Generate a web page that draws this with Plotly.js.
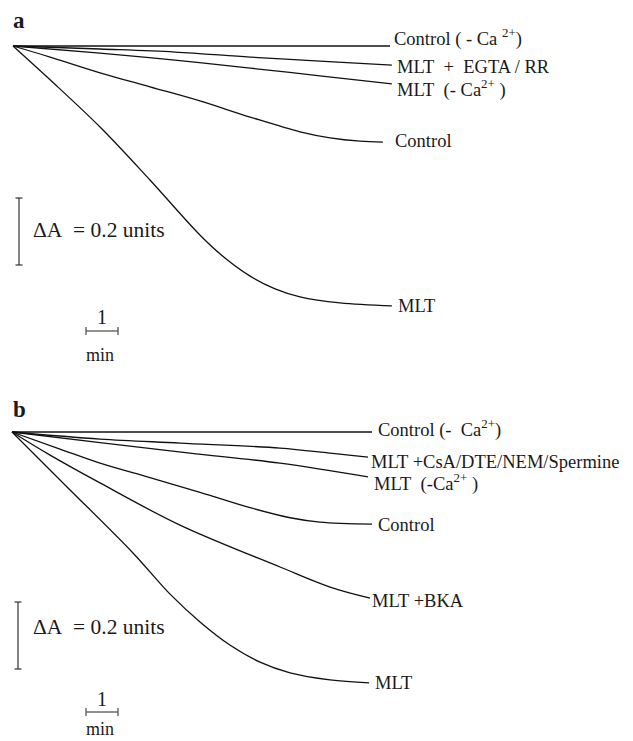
<!DOCTYPE html>
<html>
<head>
<meta charset="utf-8">
<script src="https://cdn.plot.ly/plotly-3.0.1.min.js"></script>
<style>
html,body{margin:0;padding:0;background:#fff;}
#chart{width:633px;height:741px;}
</style>
</head>
<body>
<div id="chart"></div>
<script>
// ---------- DATA (time in min, ΔA in absorbance units; negative = decrease) ----------
// Panel a
const a_ctrlNoCa_t = [0, 3, 6, 9, 11.78];
const a_ctrlNoCa_y = [0, 0, 0, 0, 0];
const a_egta_t = [0, 2.72, 5.06, 7.41, 9.59, 11.84];
const a_egta_y = [0, -0.009, -0.018, -0.033, -0.045, -0.057];
const a_mltNoCa_t = [0, 2.72, 5.06, 7.41, 9.59, 11.84];
const a_mltNoCa_y = [0, -0.021, -0.042, -0.066, -0.089, -0.113];
const a_ctrl_t = [0, 1.16, 2.72, 4.28, 5.84, 7.41, 8.97, 9.91, 10.84, 11.56];
const a_ctrl_y = [0, -0.033, -0.080, -0.122, -0.164, -0.212, -0.256, -0.274, -0.284, -0.287];
const a_mlt_t = [0, 1.16, 2.72, 4.28, 5.84, 6.625, 7.41, 8.19, 8.97, 10.22, 11.84];
const a_mlt_y = [0, -0.101, -0.242, -0.400, -0.564, -0.633, -0.687, -0.725, -0.749, -0.767, -0.776];
const a_labels = ["Control ( - Ca <sup>2+</sup>)", "MLT&nbsp; +&nbsp; EGTA / RR", "MLT&nbsp; (- Ca<sup>2+</sup> )", "Control", "MLT"];

// Panel b
const b_ctrlNoCa_t = [0, 3, 6, 9, 11.25];
const b_ctrlNoCa_y = [0, 0, 0, 0, 0];
const b_csa_t = [0, 2.75, 5.25, 8.375, 9.94, 11.125];
const b_csa_y = [0, -0.021, -0.033, -0.048, -0.063, -0.075];
const b_mltNoCa_t = [0, 2.75, 5.56, 8.375, 11.125];
const b_mltNoCa_y = [0, -0.032, -0.063, -0.093, -0.134];
const b_ctrl_t = [0, 1.5, 2.75, 4.31, 5.875, 7.44, 8.69, 9.625, 11.25];
const b_ctrl_y = [0, -0.051, -0.093, -0.136, -0.180, -0.226, -0.256, -0.269, -0.275];
const b_bka_t = [0, 1.19, 2.75, 5.25, 8.375, 9.94, 11.19];
const b_bka_y = [0, -0.069, -0.152, -0.278, -0.403, -0.463, -0.496];
const b_mlt_t = [0, 1.72, 3.78, 4.94, 5.875, 6.81, 7.75, 8.69, 9.94, 11.16];
const b_mlt_y = [0, -0.164, -0.361, -0.484, -0.567, -0.636, -0.687, -0.719, -0.740, -0.749];
const b_labels = ["Control (-&nbsp; Ca<sup>2+</sup>)", "MLT +CsA/DTE/NEM/Spermine", "MLT&nbsp; (-Ca<sup>2+</sup> )", "Control", "MLT +BKA", "MLT"];

// scale bars
const scaleTime = 1;      // min
const scaleAbs = 0.2;     // ΔA units
const scaleTimeLabel = ["1", "min"];
const scaleAbsLabel = "ΔA&nbsp; = 0.2 units";
const panelLetters = ["a", "b"];

// ---------- LAYOUT HELPERS ----------
const W = 633, H = 741;
const PXMIN = 32, PXUNIT = 335;           // pixels per minute, per absorbance unit
const A0 = {px: 13, py: 46}, B0 = {px: 12, py: 432};
const splitPy = 370;
function toA(px, py){ return {x: (px - A0.px)/PXMIN, y: -(py - A0.py)/PXUNIT}; }
function toB(px, py){ return {x: (px - B0.px)/PXMIN, y: -(py - B0.py)/PXUNIT}; }

const lineStyle = {color: '#111', width: 1.3, shape: 'spline', smoothing: 1};
function tr(t, y, xa, ya){
  return {x: t, y: y, xaxis: xa, yaxis: ya, type: 'scatter', mode: 'lines',
          line: lineStyle, hoverinfo: 'skip', showlegend: false};
}

const data = [
  tr(a_ctrlNoCa_t, a_ctrlNoCa_y, 'x', 'y'),
  tr(a_egta_t, a_egta_y, 'x', 'y'),
  tr(a_mltNoCa_t, a_mltNoCa_y, 'x', 'y'),
  tr(a_ctrl_t, a_ctrl_y, 'x', 'y'),
  tr(a_mlt_t, a_mlt_y, 'x', 'y'),
  tr(b_ctrlNoCa_t, b_ctrlNoCa_y, 'x2', 'y2'),
  tr(b_csa_t, b_csa_y, 'x2', 'y2'),
  tr(b_mltNoCa_t, b_mltNoCa_y, 'x2', 'y2'),
  tr(b_ctrl_t, b_ctrl_y, 'x2', 'y2'),
  tr(b_bka_t, b_bka_y, 'x2', 'y2'),
  tr(b_mlt_t, b_mlt_y, 'x2', 'y2')
];

const FONT = 'Liberation Serif';
const annotations = [];
function ann(p, text, xr, yr, size, opts){
  annotations.push(Object.assign({x: p.x, y: p.y, xref: xr, yref: yr, text: text,
    showarrow: false, xanchor: 'left', yanchor: 'middle',
    font: {family: FONT, size: size, color: '#1a1a1a'}}, opts || {}));
}

// curve labels (panel a)
const aLabelPos = [[392, 37], [395, 67], [395, 88], [393, 141], [396, 306]];
a_labels.forEach((t, i) => ann(toA(aLabelPos[i][0], aLabelPos[i][1]), t, 'x', 'y', 18.5));
// curve labels (panel b)
const bLabelPos = [[376, 428], [369, 462], [372, 482], [376, 525], [370, 601], [373, 683]];
b_labels.forEach((t, i) => ann(toB(bLabelPos[i][0], bLabelPos[i][1]), t, 'x2', 'y2', 18.5));

// panel letters
ann(toA(11, 20), '<b>' + panelLetters[0] + '</b>', 'x', 'y', 23);
ann(toB(11, 409), '<b>' + panelLetters[1] + '</b>', 'x2', 'y2', 23);

// scale labels
ann(toA(31, 230), scaleAbsLabel, 'x', 'y', 21.5);
ann(toB(31, 627), scaleAbsLabel, 'x2', 'y2', 21.5);
ann(toA(102, 317), scaleTimeLabel[0], 'x', 'y', 20, {xanchor: 'center'});
ann(toA(100, 355), scaleTimeLabel[1], 'x', 'y', 18, {xanchor: 'center'});
ann(toB(102, 699), scaleTimeLabel[0], 'x2', 'y2', 20, {xanchor: 'center'});
ann(toB(100, 729), scaleTimeLabel[1], 'x2', 'y2', 18, {xanchor: 'center'});

// scale bars as shapes
const shapes = [];
function seg(x0, y0, x1, y1, xr, yr, color, w){
  shapes.push({type: 'line', x0: x0, y0: y0, x1: x1, y1: y1, xref: xr, yref: yr,
               line: {color: color, width: w}});
}
function vBar(p, xr, yr){
  const capX = 3.5/PXMIN;
  seg(p.x, p.y, p.x, p.y - scaleAbs, xr, yr, '#333', 1.2);
  seg(p.x - capX, p.y, p.x + capX, p.y, xr, yr, '#333', 1.2);
  seg(p.x - capX, p.y - scaleAbs, p.x + capX, p.y - scaleAbs, xr, yr, '#333', 1.2);
}
function hBar(p, xr, yr){
  const capY = 4/PXUNIT;
  seg(p.x, p.y, p.x + scaleTime, p.y, xr, yr, '#555', 1.3);
  seg(p.x, p.y - capY, p.x, p.y + capY, xr, yr, '#555', 1.3);
  seg(p.x + scaleTime, p.y - capY, p.x + scaleTime, p.y + capY, xr, yr, '#555', 1.3);
}
vBar(toA(19, 198), 'x', 'y');
vBar(toB(18, 602), 'x2', 'y2');
hBar(toA(86, 331), 'x', 'y');
hBar(toB(86, 712), 'x2', 'y2');

const hidden = {showgrid: false, zeroline: false, showticklabels: false, ticks: '', showline: false, fixedrange: true};
const layout = {
  width: W, height: H, autosize: false,
  margin: {l: 0, r: 0, t: 0, b: 0, pad: 0},
  paper_bgcolor: '#fff', plot_bgcolor: '#fff',
  font: {family: FONT, color: '#1a1a1a'},
  showlegend: false,
  xaxis: Object.assign({}, hidden, {domain: [0, 1], anchor: 'y',
    range: [-A0.px/PXMIN, (W - A0.px)/PXMIN]}),
  yaxis: Object.assign({}, hidden, {domain: [1 - splitPy/H, 1], anchor: 'x',
    range: [-(splitPy - A0.py)/PXUNIT, A0.py/PXUNIT]}),
  xaxis2: Object.assign({}, hidden, {domain: [0, 1], anchor: 'y2',
    range: [-B0.px/PXMIN, (W - B0.px)/PXMIN]}),
  yaxis2: Object.assign({}, hidden, {domain: [0, 1 - splitPy/H], anchor: 'x2',
    range: [-(H - B0.py)/PXUNIT, (B0.py - splitPy)/PXUNIT]}),
  annotations: annotations,
  shapes: shapes
};

Plotly.newPlot('chart', data, layout, {staticPlot: true, displayModeBar: false});
</script>
</body>
</html>
